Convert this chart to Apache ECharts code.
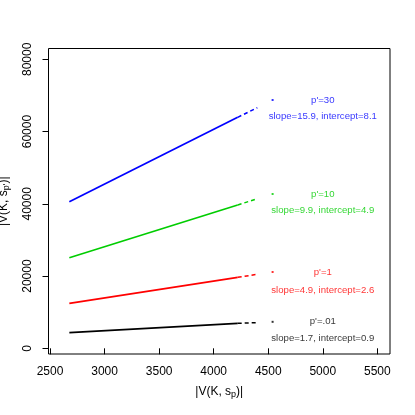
<!DOCTYPE html>
<html>
<head>
<meta charset="utf-8">
<script src="https://cdn.jsdelivr.net/npm/echarts@6/dist/echarts.min.js"></script>
<style>html,body{margin:0;padding:0;background:#fff}#c{width:415px;height:415px}</style>
</head>
<body>
<div id="c"></div>
<script>
var groupNames = ["p'=30", "p'=10", "p'=1", "p'=.01"];
var fitTexts = ["slope=15.9, intercept=8.1", "slope=9.9, intercept=4.9", "slope=4.9, intercept=2.6", "slope=1.7, intercept=0.9"];
var colors = ["#0000FF", "#00CD00", "#FF0000", "#000000"];
// solid segment: [x, y] start and end
var solidX = [2677, 4220];
var solidY = [[40580, 63945], [25080, 39670], [12450, 19650], [4320, 6920]];
// dashed continuation
var dashX = [4220, 4400];
var dashY = [[63945, 66600], [39670, 41410], [19650, 20480], [6920, 7090]];
// single point
var dotX = 4540;
var dotY = [68730, 42710, 21120, 7330];
// text annotations
var labelX = 5000;
var nameY = [68730, 42710, 21120, 7370];
var fitY = [64100, 38090, 16140, 2660];
var xTicks = [2500, 3000, 3500, 4000, 4500, 5000, 5500];
var yTicks = [0, 20000, 40000, 60000, 80000];

var font = "'Liberation Sans', Arial, Helvetica, sans-serif";
var series = [];
for (var i = 0; i < colors.length; i++) {
  series.push({
    type: 'line', silent: true, symbol: 'none',
    data: [[solidX[0], solidY[i][0]], [solidX[1], solidY[i][1]]],
    lineStyle: {color: colors[i], width: 1.7}
  });
  series.push({
    type: 'line', silent: true, symbol: 'none',
    data: [[dashX[0], dashY[i][0]], [dashX[1], dashY[i][1]]],
    lineStyle: {color: colors[i], width: 1.5, type: [4, 3]}
  });
  series.push({
    type: 'scatter', silent: true, symbol: 'rect', symbolSize: 2,
    data: [[dotX, dotY[i]]], itemStyle: {color: colors[i]}
  });
  series.push({
    type: 'scatter', silent: true, symbolSize: 0,
    data: [[labelX, nameY[i], groupNames[i]], [labelX, fitY[i], fitTexts[i]]],
    label: {show: true, position: 'inside', color: colors[i], fontSize: 9.6, fontFamily: font,
      formatter: function (p) { return p.data[2]; }}
  });
}

var chart = echarts.init(document.getElementById('c'));
chart.setOption({
  animation: false,
  backgroundColor: '#fff',
  grid: {left: 48.5, right: 25, top: 48.5, bottom: 61, show: true, borderColor: '#000', borderWidth: 1,
    backgroundColor: 'transparent', containLabel: false, outerBoundsMode: 'none'},
  xAxis: {
    type: 'value', min: 2486, max: 5616,
    splitLine: {show: false},
    axisLine: {show: false},
    axisTick: {show: true, length: 6, customValues: xTicks, lineStyle: {color: '#000'}},
    axisLabel: {customValues: xTicks, color: '#000', fontSize: 12, fontFamily: font, margin: 12,
      formatter: function (v) { return String(v); }},
    name: '|V(K, s{sub|p})|', nameLocation: 'middle', nameGap: 30,
    nameTextStyle: {color: '#000', fontSize: 12, fontFamily: font,
      rich: {sub: {fontSize: 9, verticalAlign: 'bottom', padding: [6, 0, 0, 0], fontFamily: font, color: '#000'}}}
  },
  yAxis: {
    type: 'value', min: -1578, max: 82990,
    splitLine: {show: false},
    axisLine: {show: false},
    axisTick: {show: true, length: 6, customValues: yTicks, lineStyle: {color: '#000'}},
    axisLabel: {customValues: yTicks, color: '#000', fontSize: 12, fontFamily: font, rotate: 90, margin: 15,
      formatter: function (v) { return String(v); }},
    name: "|V(K, s{sub|p'})|", nameLocation: 'middle', nameGap: 37,
    nameTextStyle: {color: '#000', fontSize: 12, fontFamily: font,
      rich: {sub: {fontSize: 9, verticalAlign: 'bottom', padding: [6, 0, 0, 0], fontFamily: font, color: '#000'}}}
  },
  series: series
});
</script>
</body>
</html>
